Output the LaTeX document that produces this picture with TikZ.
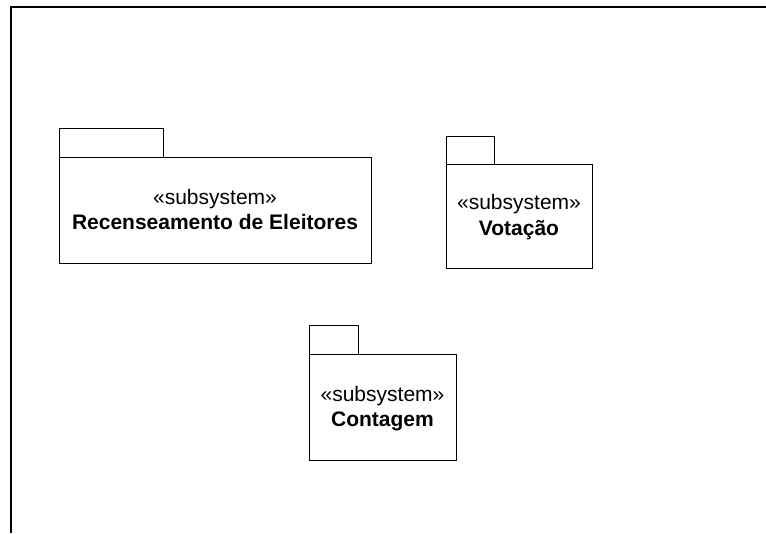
\documentclass[tikz,border=0pt]{standalone}
\usepackage{fontspec}
\setmainfont{Liberation Sans}
\begin{document}
\begin{tikzpicture}[x=1pt,y=-1pt,
  frameline/.style={line width=2pt},
  pkgbody/.style={draw,line width=1pt,rectangle,inner sep=0pt,outer sep=0pt,anchor=north west},
  pkgtab/.style={draw,line width=1pt,rectangle,inner sep=0pt,outer sep=0pt,anchor=south west},
  stereo/.style={anchor=base,inner sep=0pt,font=\fontsize{21}{25}\selectfont},
  pkgname/.style={anchor=base,inner sep=0pt,font=\fontsize{21}{25}\selectfont\bfseries}]
\useasboundingbox (0,0) rectangle (766,533);

% diagram frame (top and left edges)
\coordinate (fbl) at (10.5,533);
\coordinate (ftl) at (10.5,6.5);
\coordinate (ftr) at (766,6.5);
\draw[frameline] (fbl) -- (ftl) -- (ftr);

% Recenseamento de Eleitores
\node[pkgbody,minimum width=312pt,minimum height=106pt] (p1) at (59,157) {};
\node[pkgtab,minimum width=104pt,minimum height=29pt] (p1tab) at (p1.north west) {};
\node[stereo] (p1s) at (215,204) {«subsystem»};
\node[pkgname] (p1n) at (215,229) {Recenseamento de Eleitores};

% Votação
\node[pkgbody,minimum width=146pt,minimum height=104pt] (p2) at (446,164.5) {};
\node[pkgtab,minimum width=48pt,minimum height=28pt] (p2tab) at (p2.north west) {};
\node[stereo] (p2s) at (519,209) {«subsystem»};
\node[pkgname] (p2n) at (519,235) {Votação};

% Contagem
\node[pkgbody,minimum width=147pt,minimum height=106pt] (p3) at (309,354) {};
\node[pkgtab,minimum width=49pt,minimum height=29pt] (p3tab) at (p3.north west) {};
\node[stereo] (p3s) at (382.5,401) {«subsystem»};
\node[pkgname] (p3n) at (382.5,426.5) {Contagem};
\end{tikzpicture}
\end{document}
